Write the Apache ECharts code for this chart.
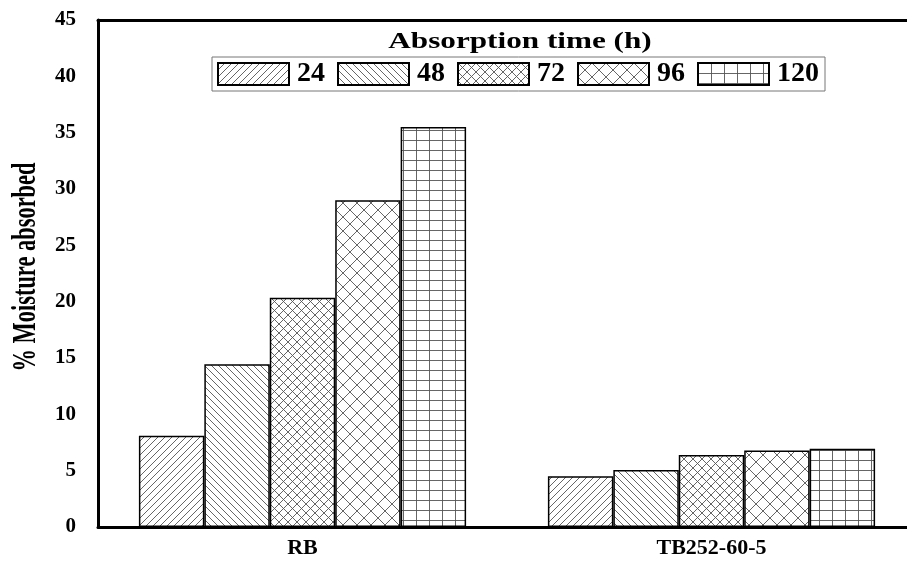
<!DOCTYPE html>
<html><head><meta charset="utf-8">
<script src="https://cdn.jsdelivr.net/npm/echarts@6/dist/echarts.min.js"></script>
<style>html,body{margin:0;padding:0;background:#fff;overflow:hidden}#c{width:907px;height:562px}</style>
</head><body><div id="c"></div>
<script>
const categories = ['RB', 'TB252-60-5'];
const seriesNames = ['24', '48', '72', '96', '120'];
const v24 = [8.1, 4.5];
const v48 = [14.45, 5.05];
const v72 = [20.35, 6.4];
const v96 = [29.0, 6.8];
const v120 = [35.5, 6.95];
const yTicks = [0, 5, 10, 15, 20, 25, 30, 35, 40, 45];

const FONT = '"Liberation Serif", "Times New Roman", serif';

function tile(w, h, draw) {
  const c = document.createElement('canvas');
  c.width = w; c.height = h;
  const g = c.getContext('2d');
  g.fillStyle = '#fff'; g.fillRect(0, 0, w, h);
  g.strokeStyle = '#555'; g.lineWidth = 0.9;
  draw(g, w, h);
  return { image: c, repeat: 'repeat' };
}
function fwd(g, s) { // "/"
  g.beginPath();
  g.moveTo(-1, s + 1); g.lineTo(s + 1, -1);
  g.moveTo(-1, 1); g.lineTo(1, -1);
  g.moveTo(s - 1, s + 1); g.lineTo(s + 1, s - 1);
  g.stroke();
}
function back(g, s) { // "\"
  g.beginPath();
  g.moveTo(-1, -1); g.lineTo(s + 1, s + 1);
  g.moveTo(s - 1, -1); g.lineTo(s + 1, 1);
  g.moveTo(-1, s - 1); g.lineTo(1, s + 1);
  g.stroke();
}
const patterns = [
  tile(7, 7, (g, w) => fwd(g, w)),
  tile(7, 7, (g, w) => back(g, w)),
  tile(9, 9, (g, w) => { fwd(g, w); back(g, w); }),
  tile(14, 14, (g, w) => { fwd(g, w); back(g, w); }),
  tile(13, 10, (g, w, h) => {
    g.beginPath();
    g.moveTo(0.5, 0); g.lineTo(0.5, h);
    g.moveTo(0, 0.5); g.lineTo(w, 0.5);
    g.stroke();
  })
];
const values = [v24, v48, v72, v96, v120];

const chart = echarts.init(document.getElementById('c'), null, { renderer: 'canvas' });
chart.setOption({
  backgroundColor: '#fff',
  animation: false,
  legend: {
    data: seriesNames,
    left: 212, top: 57,
    itemWidth: 71, itemHeight: 22, itemGap: 12,
    padding: [3, 6, 3, 5],
    borderColor: '#777', borderWidth: 1,
    icon: 'rect',
    textStyle: { fontFamily: FONT, fontWeight: 'bold', fontSize: 28, color: '#000', padding: [0, 0, 0, 3] }
  },
  grid: { left: 98, right: -9, top: 20, bottom: 35, outerBoundsMode: 'none', containLabel: false, show: false },
  xAxis: [{
    type: 'category', data: categories,
    axisLine: { lineStyle: { color: '#000', width: 3 } },
    axisTick: { alignWithLabel: true, length: 8, lineStyle: { width: 3, color: '#000' } },
    axisLabel: { fontFamily: FONT, fontWeight: 'bold', fontSize: 22, color: '#000', margin: 10 }
  }, {
    type: 'category', data: categories, position: 'top',
    axisLine: { lineStyle: { color: '#000', width: 3 } },
    axisTick: { show: false }, axisLabel: { show: false }
  }],
  yAxis: {
    type: 'value', min: yTicks[0], max: yTicks[yTicks.length - 1], interval: 5,
    axisLine: { show: true, lineStyle: { color: '#000', width: 3 } },
    axisTick: { show: false },
    splitLine: { show: false },
    axisLabel: { fontFamily: FONT, fontWeight: 'bold', fontSize: 21, color: '#000', margin: 22 }
  },
  graphic: [{
    type: 'text', x: 26, y: 267, rotation: Math.PI / 2, scaleX: 0.68, scaleY: 1,
    style: { text: '% Moisture absorbed', fontFamily: FONT, fontWeight: 'bold', fontSize: 33, fill: '#000', align: 'center', verticalAlign: 'middle' }
  }, {
    type: 'text', x: 520, y: 42, scaleX: 1.3, scaleY: 1,
    style: { text: 'Absorption time (h)', fontFamily: FONT, fontWeight: 'bold', fontSize: 24, fill: '#000', align: 'center', verticalAlign: 'middle' }
  }],
  series: seriesNames.map((n, i) => ({
    name: n, type: 'bar', data: values[i],
    barGap: '0%', barCategoryGap: '20%',
    itemStyle: { color: patterns[i], borderColor: '#000', borderWidth: 1.5 }
  }))
});
</script></body></html>
